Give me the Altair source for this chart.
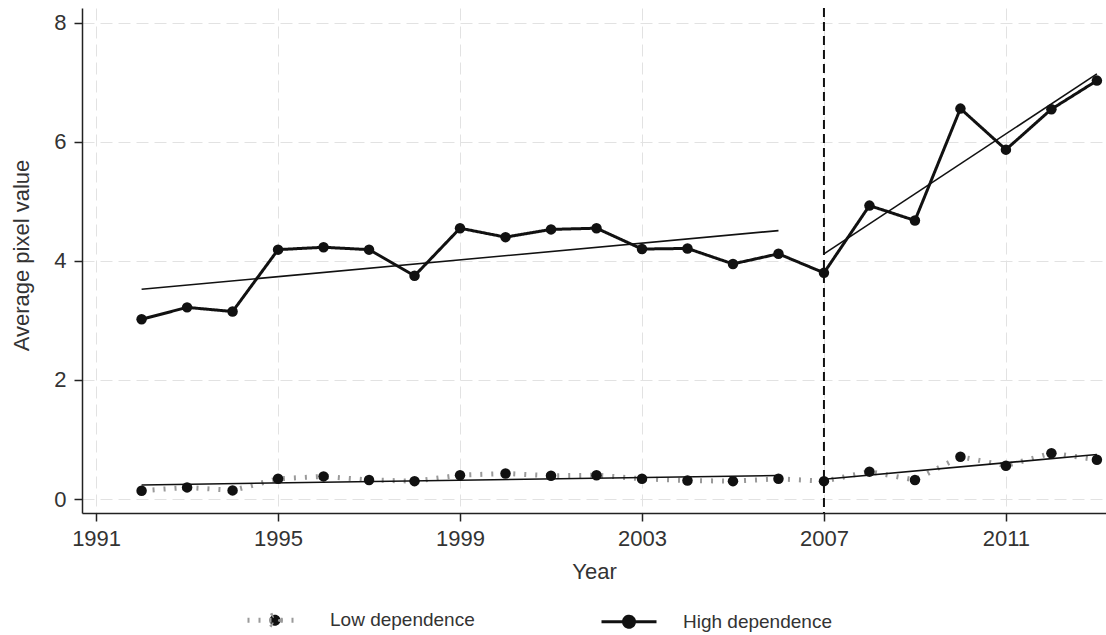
import altair as alt
import pandas as pd

# Annual average pixel value by dependence group
years = list(range(1992, 2014))
high_dep = [3.02, 3.22, 3.15, 4.19, 4.23, 4.19, 3.75, 4.55, 4.40, 4.53, 4.55,
            4.20, 4.21, 3.95, 4.12, 3.80, 4.93, 4.68, 6.56, 5.87, 6.55, 7.03]
low_dep = [0.14, 0.195, 0.145, 0.34, 0.38, 0.32, 0.30, 0.40, 0.43, 0.39, 0.40,
           0.34, 0.31, 0.30, 0.34, 0.30, 0.46, 0.32, 0.71, 0.56, 0.77, 0.66]
groups = ["Low dependence", "High dependence"]
break_year = [2007]
x_ticks = [1991, 1995, 1999, 2003, 2007, 2011]
y_ticks = [0, 2, 4, 6, 8]

rows = []
for g, series in zip(groups, [low_dep, high_dep]):
    for yr, v in zip(years, series):
        rows.append({"year": yr, "value": v, "group": g,
                     "period": "pre" if yr < break_year[0] else "post"})
df = pd.DataFrame(rows)
df_break = pd.DataFrame({"year": break_year})

FONT = "Liberation Sans"
TXT = "#333333"

x_enc = alt.X("year:Q",
              scale=alt.Scale(domain=[1990.69, 2013.2], nice=False, zero=False),
              axis=alt.Axis(values=x_ticks, format="d", title="Year",
                            titleY=65, titleBaseline="alphabetic",
                            labelPadding=7))
y_enc = alt.Y("value:Q",
              scale=alt.Scale(domain=[-0.235, 8.25], nice=False, zero=False),
              axis=alt.Axis(values=y_ticks, format="d", title="Average pixel value",
                            titleAngle=-90, titleX=-54, titleY=247,
                            titleAlign="center", titleBaseline="alphabetic",
                            labelPadding=8))

# legend glyph: a short line with a dot in the middle
glyph = "M-1,0H1M0.2,0A0.2,0.2,0,1,1,-0.2,0A0.2,0.2,0,1,1,0.2,0Z"

base = alt.Chart(df)

lines = base.mark_line().encode(
    x=x_enc,
    y=y_enc,
    color=alt.Color("group:N",
                    scale=alt.Scale(domain=groups, range=["#9a9a9a", "#111111"]),
                    legend=alt.Legend(title=None, orient="none", direction="horizontal",
                                      legendX=163, legendY=582,
                                      symbolType=glyph, symbolSize=3025,
                                      symbolStrokeWidth=3, symbolFillColor="#111111",
                                      labelOffset=25, columnPadding=120,
                                      labelFontSize=19, labelFont=FONT,
                                      labelColor=TXT, labelLimit=300)),
    strokeDash=alt.StrokeDash("group:N",
                              scale=alt.Scale(domain=groups, range=[[2, 9], [1, 0]])),
    strokeWidth=alt.StrokeWidth("group:N",
                                scale=alt.Scale(domain=groups, range=[5, 3]),
                                legend=None),
    order="year:Q",
)

points = base.mark_point(filled=True, size=110, opacity=1, color="#111111").encode(
    x="year:Q", y="value:Q"
)

trends = base.transform_regression(
    "year", "value", groupby=["group", "period"]
).mark_line(color="#111111", strokeWidth=1.6).encode(
    x="year:Q", y="value:Q", detail=["group:N", "period:N"]
)

rule = alt.Chart(df_break).mark_rule(
    color="#111111", strokeWidth=2, strokeDash=[9, 5]
).encode(x="year:Q")

chart = alt.layer(lines, trends, points, rule).properties(
    width=1024, height=505,
    autosize=alt.AutoSizeParams(type="none"),
    padding={"left": 82, "top": 8, "right": 0, "bottom": 122},
    background="white",
).configure_view(stroke=None).configure_axis(
    labelFont=FONT, titleFont=FONT, labelFontSize=22, titleFontSize=22,
    labelColor=TXT, titleColor=TXT, titleFontWeight="normal",
    domainColor="#222222", domainWidth=1.5, tickColor="#222222", tickWidth=1.5,
    tickSize=8, gridColor="#e2e2e2", gridDash=[12, 6], gridWidth=1,
)

chart.save("out.html", embed_options={"renderer": "svg", "actions": False})
